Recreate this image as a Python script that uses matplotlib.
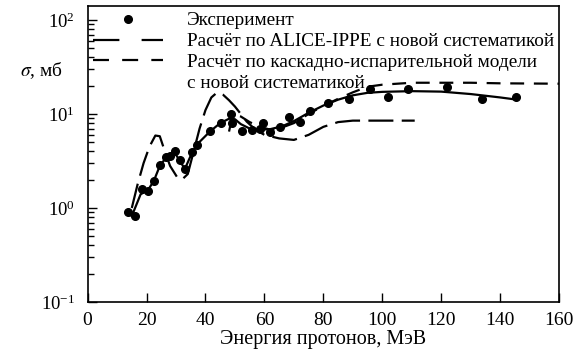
import matplotlib
matplotlib.use("Agg")
import matplotlib.pyplot as plt
from matplotlib.lines import Line2D
from matplotlib.ticker import LogLocator, NullFormatter, FixedLocator

plt.rcParams['font.family'] = ['Liberation Serif', 'DejaVu Serif']
plt.rcParams['mathtext.fontset'] = 'stix'
plt.rcParams['lines.scale_dashes'] = False

# Experimental points
exp_x = [13.6, 16.1, 18.6, 20.6, 22.6, 24.6, 26.5, 28.0, 29.7, 31.4, 33.1, 35.4, 37.0,
         41.6, 45.3, 48.6, 48.9, 52.3, 55.7, 58.6, 59.5, 62.0, 65.3, 68.5, 72.1, 75.5,
         81.6, 88.8, 95.9, 102.0, 108.8, 122.0, 133.9, 145.4]
exp_y = [0.91, 0.82, 1.59, 1.53, 1.94, 2.87, 3.5, 3.6, 4.0, 3.24, 2.58, 3.97, 4.7,
         6.6, 8.1, 10.0, 8.0, 6.6, 6.7, 6.9, 8.0, 6.5, 7.2, 9.2, 8.3, 10.8,
         13.0, 14.4, 18.5, 15.2, 18.5, 19.4, 14.4, 15.2]

# Solid curve
sol_x = [15, 18, 20.5, 22.5, 24.5, 26.5, 28, 29.5, 31.5, 33, 35, 37, 41.5, 45, 48, 50,
         52, 55, 58, 62, 66, 70, 75, 80, 85, 90, 95, 100, 110, 120, 130, 140, 145]
sol_y = [0.82, 1.4, 1.55, 1.95, 2.8, 3.4, 3.7, 3.9, 3.1, 2.6, 3.6, 4.7, 6.5, 8.0, 8.9, 8.8,
         7.8, 7.0, 6.8, 6.9, 7.4, 8.4, 10.3, 12.3, 14.2, 15.8, 16.8, 17.2, 17.5, 17.3, 16.3,
         15.0, 14.3]

# ALICE-IPPE calculation
alice_x = [15, 17, 19, 21, 23, 24.5, 26, 28, 30.5, 32, 34, 36, 38, 40, 42, 44, 46, 48, 50,
           52, 54, 57, 60, 65, 70, 75, 80, 85, 90, 100, 111]
alice_y = [1.0, 1.8, 3.0, 4.5, 5.9, 5.8, 4.2, 2.8, 2.1, 2.0, 2.3, 4.0, 7.0, 11, 15, 17, 16,
           14, 12, 10, 8.3, 6.8, 6.0, 5.5, 5.3, 6.0, 7.3, 8.2, 8.5, 8.5, 8.5]

# Cascade-evaporation calculation
casc_x = [48, 49, 50, 52, 55, 58, 62, 65, 70, 75, 80, 85, 90, 95, 100, 110, 120, 130, 140, 160]
casc_y = [6.5, 9.2, 9.8, 9.4, 8.2, 7.4, 6.8, 7.0, 8.0, 10.0, 12.2, 14.5, 17.0, 19.5, 20.5,
          21.5, 21.5, 21.5, 21.2, 21.0]

labels = ['Эксперимент',
          'Расчёт по ALICE-IPPE с новой систематикой',
          'Расчёт по каскадно-испарительной модели',
          'с новой систематикой']
xlabel = 'Энергия протонов, МэВ'
ylabel = r'$\sigma$, мб'

fig = plt.figure(figsize=(5.8, 3.51), dpi=100)
ax = fig.add_axes([0.151, 0.1396, 0.813, 0.8434])

ax.plot(sol_x, sol_y, color='black', lw=1.6)
ax.plot(alice_x, alice_y, color='black', lw=1.6, dashes=(18, 6))
ax.plot(casc_x, casc_y, color='black', lw=1.6, dashes=(10, 7))
ax.plot(exp_x, exp_y, 'o', color='black', ms=5.5)

ax.set_yscale('log')
ax.set_xlim(0, 160)
ax.set_ylim(0.1, 141)
ax.xaxis.set_major_locator(FixedLocator(range(0, 161, 20)))
ax.yaxis.set_major_locator(LogLocator(base=10, numticks=10))
ax.yaxis.set_minor_locator(LogLocator(base=10, subs=range(2, 10), numticks=10))
ax.yaxis.set_minor_formatter(NullFormatter())
ax.tick_params(axis='both', which='major', direction='in', length=6.5, width=1.0,
               colors='black')
ax.tick_params(axis='x', which='major', labelsize=14, pad=7)
ax.tick_params(axis='y', which='major', labelsize=13.5, pad=9)
ax.tick_params(axis='y', which='minor', direction='in', length=4.5, width=1.0)
for s in ax.spines.values():
    s.set_linewidth(1.2)

ax.set_xlabel(xlabel, fontsize=14.5, labelpad=1)
fig.text(0.072, 0.80, ylabel, fontsize=14, ha='center', va='center')

h1 = Line2D([], [], ls='none', marker='o', color='black', ms=5.5)
h2 = Line2D([], [], color='black', lw=1.6, dashes=(19, 16))
h3 = Line2D([], [], color='black', lw=1.6, dashes=(11.5, 9.5))
h4 = Line2D([], [], ls='none', marker='none')
leg = ax.legend([h1, h2, h3, h4], labels, loc='upper left', frameon=False, fontsize=13.9,
                handlelength=3.6, handletextpad=1.25, borderaxespad=0.0, borderpad=0.3,
                labelspacing=0.18)

fig.savefig('out.png', dpi=100)
